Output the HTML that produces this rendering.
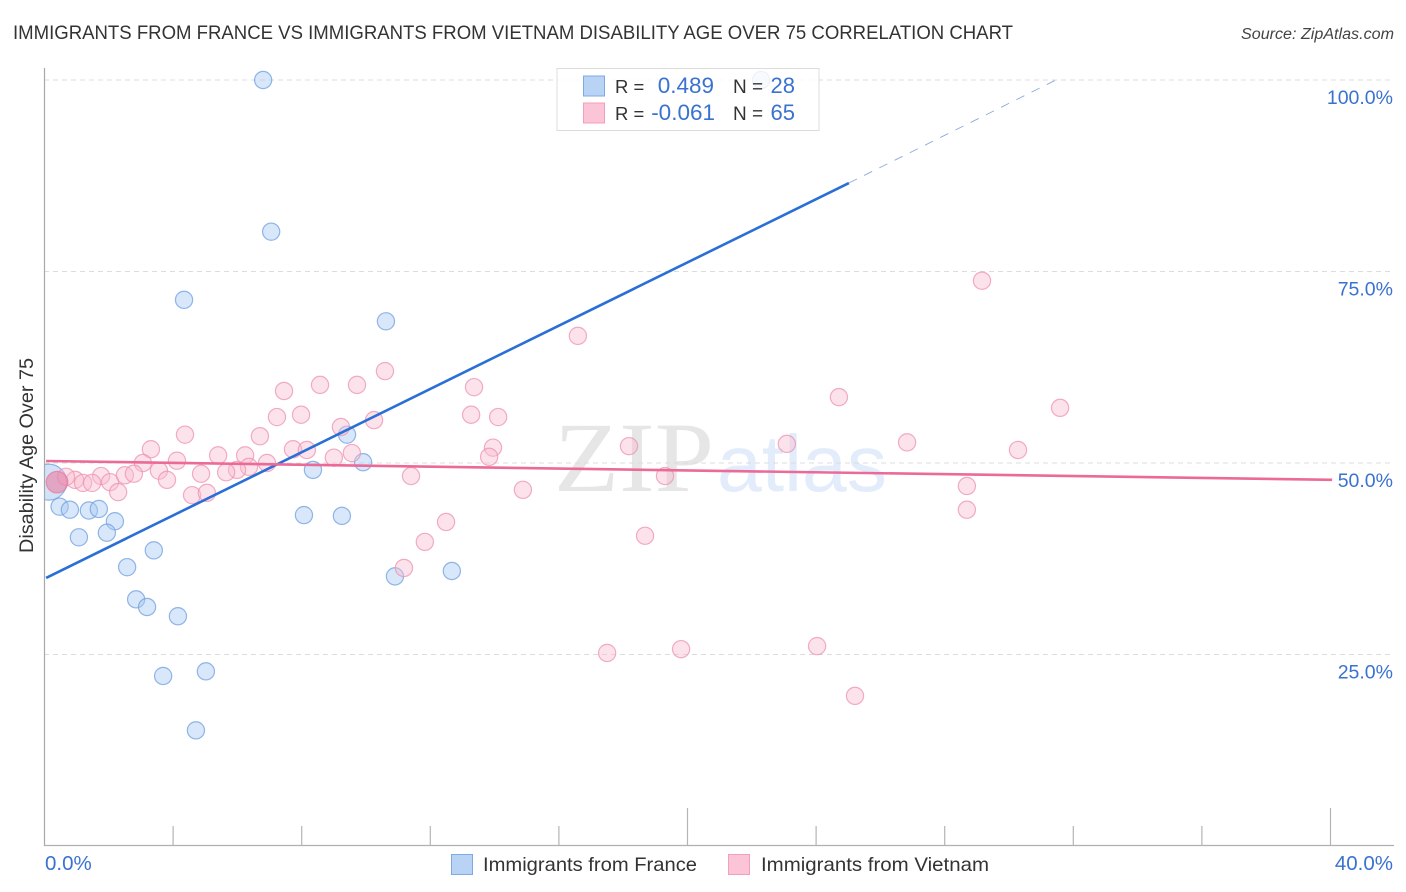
<!DOCTYPE html>
<html>
<head>
<meta charset="utf-8">
<title>Immigrants from France vs Immigrants from Vietnam Disability Age Over 75 Correlation Chart</title>
<style>
html,body{margin:0;padding:0;background:#fff;width:1406px;height:892px;overflow:hidden}
svg{display:block;font-family:"Liberation Sans",sans-serif}
</style>
</head>
<body>
<svg id="chart" width="1406" height="892" viewBox="0 0 1406 892">
  <text x="13" y="39" font-size="19.5" fill="#333" textLength="1000" lengthAdjust="spacingAndGlyphs">IMMIGRANTS FROM FRANCE VS IMMIGRANTS FROM VIETNAM DISABILITY AGE OVER 75 CORRELATION CHART</text>
  <text x="1394" y="39" font-size="15.5" font-style="italic" fill="#444" text-anchor="end" textLength="153" lengthAdjust="spacingAndGlyphs">Source: ZipAtlas.com</text>
  <text transform="translate(33,553) rotate(-90)" font-size="19" fill="#333" textLength="195" lengthAdjust="spacingAndGlyphs">Disability Age Over 75</text>
  <g>
    <text x="554" y="491" font-family="'Liberation Serif',serif" font-size="100" fill="#e6e6e6" textLength="160" lengthAdjust="spacingAndGlyphs">ZIP</text>
    <text x="717" y="491" font-size="80" fill="#e2ecfa" textLength="170" lengthAdjust="spacingAndGlyphs">atlas</text>
  </g>
  <g id="grid"></g>
  <g id="axes"></g>
  <g id="blue-points"></g>
  <g id="pink-points"></g>
  <g id="trends"></g>
  <g id="labels"></g>

  <g>
    <rect x="557" y="68.5" width="262" height="62" fill="#fff" fill-opacity="0.82" stroke="#dcdcdc" stroke-width="1"/>
    <rect x="583.5" y="76" width="21" height="20" fill="#b9d3f5" stroke="#7fa9e6"/>
    <rect x="583.5" y="103" width="21" height="20" fill="#fcc5d7" stroke="#f0a0ba"/>
    <text x="615" y="93" font-size="18.5" fill="#333">R =</text>
    <text x="714" y="93" font-size="22.5" fill="#3a72cf" text-anchor="end">0.489</text>
    <text x="733" y="93" font-size="19" fill="#333">N =</text>
    <text x="795" y="93" font-size="22" fill="#3a72cf" text-anchor="end">28</text>
    <text x="615" y="120" font-size="18.5" fill="#333">R =</text>
    <text x="715" y="120" font-size="22.5" fill="#3a72cf" text-anchor="end">-0.061</text>
    <text x="733" y="120" font-size="19" fill="#333">N =</text>
    <text x="795" y="120" font-size="22" fill="#3a72cf" text-anchor="end">65</text>
  </g>

  <g>
    <rect x="451.5" y="854.5" width="21" height="20" fill="#b9d3f5" stroke="#7fa9e6"/>
    <text x="483" y="871" font-size="19.5" fill="#333" textLength="214" lengthAdjust="spacingAndGlyphs">Immigrants from France</text>
    <rect x="728.5" y="854.5" width="21" height="20" fill="#fcc5d7" stroke="#f0a0ba"/>
    <text x="761" y="871" font-size="19.5" fill="#333" textLength="228" lengthAdjust="spacingAndGlyphs">Immigrants from Vietnam</text>
  </g>
</svg>
<script>
var franceX = [6.80,7.05,4.34,10.62,9.41,8.35,9.91,8.07,9.25,10.90,12.67,0.47,0.79,1.38,1.69,2.19,1.07,1.94,3.40,2.57,2.85,3.19,4.15,3.69,5.02,4.71,22.29];
var franceY = [100,80.2,71.3,68.5,53.7,49.1,50.1,43.2,43.1,35.2,35.9,44.3,43.9,43.8,44.0,42.4,40.3,40.9,38.6,36.4,32.2,31.2,30.0,22.2,22.8,15.1,100];
var franceBigX = [0.13];
var franceBigY = [47.5];
var vietnamX = [29.16,16.59,10.59,9.72,8.57,7.45,13.36,24.71,31.59,13.27,14.11,7.23,7.98,10.25,9.22,6.70,4.37,3.31,26.83,23.09,18.18,30.28,13.95,13.83,9.56,7.73,8.16,5.40,6.24,9.00,6.92,4.12,3.06,3.56,6.36,5.99,5.65,4.87,2.50,2.78,1.76,0.95,0.67,1.20,1.48,2.04,3.81,11.40,19.30,28.69,14.88,4.59,5.05,2.29,28.69,12.49,18.68,11.83,11.18,17.50,19.80,24.03,25.21];
var vietnamY = [73.8,66.6,62.0,60.2,60.2,59.4,59.9,58.6,57.2,56.3,56.0,56.0,56.3,55.6,54.7,53.5,53.7,51.8,52.7,52.5,52.2,51.7,52.0,50.8,51.3,51.8,51.7,51.0,51.0,50.7,50.0,50.3,50.0,49.0,49.5,49.1,48.8,48.6,48.4,48.6,48.3,47.8,48.2,47.4,47.4,47.5,47.8,48.3,48.3,47.0,46.5,45.8,46.1,46.2,43.9,42.3,40.5,39.7,36.3,25.2,25.7,26.1,19.6];
var vietnamBigX = [0.39];
var vietnamBigY = [47.5];
var franceTrendSolidX = [0.05,25.02];
var franceTrendSolidY = [35.0,86.55];
var franceTrendDashX = [25.02,31.46];
var franceTrendDashY = [86.55,100];
var vietnamTrendX = [0.05,40.05];
var vietnamTrendY = [50.26,47.8];
var yGridValues = [25,50,75,100];
var yTickLabels = ["25.0%","50.0%","75.0%","100.0%"];
var xTickValues = [4,8,12,16,20,24,28,32,36,40];
var xMajorTicks = [20,40];
var xEndLabels = ["0.0%","40.0%"];

var NS = 'http://www.w3.org/2000/svg';
function sx(v){ return 44.5 + v * 32.15; }
function sy(v){ return 846 - v * 7.66; }
function mk(tag, parent, attrs){
  var el = document.createElementNS(NS, tag);
  for (var k in attrs) el.setAttribute(k, attrs[k]);
  document.getElementById(parent).appendChild(el);
  return el;
}

yGridValues.forEach(function(v){
  var el = mk('line','grid',{x1:44,x2:1394,y1:sy(v),y2:sy(v),stroke:'#dcdcdc','stroke-width':1,'stroke-dasharray':'5 4'});
  
  
});

var yAxis = mk('line','axes',{x1:44.5,x2:44.5,y1:68,y2:846,stroke:'#a8a8a8','stroke-width':1.2});


var xAxis = mk('line','axes',{x1:44,x2:1394,y1:845.5,y2:845.5,stroke:'#b0b0b0','stroke-width':1.2});


xTickValues.forEach(function(v){
  var top = xMajorTicks.indexOf(v) >= 0 ? 808 : 826;
  var el = mk('line','axes',{x1:sx(v),x2:sx(v),y1:top,y2:845.5,stroke:'#b4b4b4','stroke-width':1.2});
  
  
});

function drawPoints(parent, xs, ys, r, fill, stroke, name, fillOp){
  xs.forEach(function(x, i){
    var el = mk('circle', parent, {cx:sx(x),cy:sy(ys[i]),r:r,fill:fill,'fill-opacity':fillOp,stroke:stroke,'stroke-opacity':0.75,'stroke-width':1.2});
    
    
  });
}
var clip = document.createElementNS(NS,'clipPath');
clip.setAttribute('id','plot-clip');
var clipRect = document.createElementNS(NS,'rect');
clipRect.setAttribute('x','45');clipRect.setAttribute('y','60');clipRect.setAttribute('width','1350');clipRect.setAttribute('height','786');
clip.appendChild(clipRect);
document.getElementById('chart').appendChild(clip);
document.getElementById('blue-points').setAttribute('clip-path','url(#plot-clip)');

drawPoints('blue-points', franceBigX, franceBigY, 18, '#8fb7ec', '#6f9fe0', 'france-point-large', 0.4);
drawPoints('blue-points', franceX, franceY, 8.6, '#a9c9f2', '#6f9fe0', 'france-point', 0.45);
drawPoints('pink-points', vietnamX, vietnamY, 8.6, '#f9bcd0', '#ee92b0', 'vietnam-point', 0.42);
drawPoints('pink-points', vietnamBigX, vietnamBigY, 10.8, '#ec7fa4', '#e8789e', 'vietnam-point-large', 0.6);

function trend(xs, ys, color, width, dash, name){
  var attrs = {x1:sx(xs[0]),y1:sy(ys[0]),x2:sx(xs[1]),y2:sy(ys[1]),stroke:color,'stroke-width':width};
  if (dash) attrs['stroke-dasharray'] = dash;
  var el = mk('line','trends',attrs);
  
  
}
trend(franceTrendSolidX, franceTrendSolidY, '#2a6fd6', 2.6, null, 'france-trend-line');
trend(franceTrendDashX, franceTrendDashY, '#8fa9d9', 0.9, '9 8', 'france-trend-extension');
trend(vietnamTrendX, vietnamTrendY, '#ec6a98', 2.6, null, 'vietnam-trend-line');

yGridValues.forEach(function(v, i){
  var el = mk('text','labels',{x:1393,y:sy(v)+24,'font-size':19.5,fill:'#3a72cf','text-anchor':'end'});
  el.textContent = yTickLabels[i];
  
  
});
var xl0 = mk('text','labels',{x:45,y:870,'font-size':20.5,fill:'#3a72cf'});
xl0.textContent = xEndLabels[0];


var xl1 = mk('text','labels',{x:1393,y:870,'font-size':20.5,fill:'#3a72cf','text-anchor':'end'});
xl1.textContent = xEndLabels[1];


</script>
</body>
</html>
